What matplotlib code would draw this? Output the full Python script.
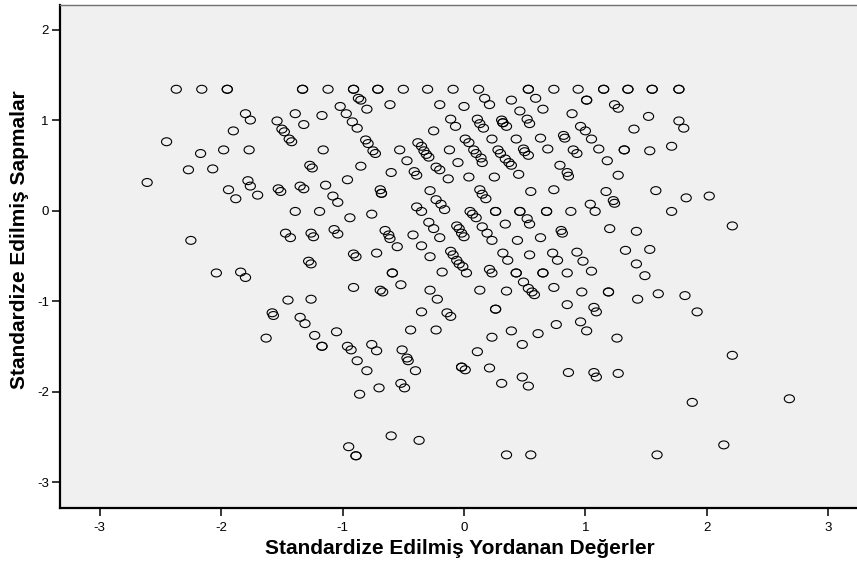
import matplotlib
matplotlib.use('Agg')
import matplotlib.pyplot as plt
from matplotlib.path import Path
from matplotlib.transforms import Affine2D
import numpy as np

plt.rcParams['font.family'] = ['Liberation Sans', 'DejaVu Sans']

# ---- data ----
top_y = 1.34
top_x = [-2.37, -2.16, -1.95, -1.95, -1.33, -1.33, -1.12, -0.91, -0.91, -0.71, -0.71,
         -0.50, -0.30, -0.09, 0.12, 0.53, 0.53, 0.74, 0.94, 1.15, 1.15, 1.35, 1.35,
         1.55, 1.55, 1.77, 1.77]

left_x = [-1.80, -1.76, -1.90, -2.45, -2.17, -1.98, -1.77, -2.27, -2.07, -2.61, -1.78,
          -1.76, -1.94, -1.88, -1.70, -2.25, -2.04, -1.84, -1.80, -1.63]
left_y = [1.07, 1.00, 0.88, 0.76, 0.63, 0.67, 0.67, 0.45, 0.46, 0.31, 0.33,
          0.27, 0.23, 0.13, 0.17, -0.33, -0.69, -0.68, -0.74, -1.41]

upmid_x = [-0.87, -0.85, -1.02, -0.97, -0.80, -0.61, -1.39, -1.54, -1.32, -1.17, -0.92,
           -0.88, -1.50, -1.48, -1.44, -1.42, -0.81, -0.79, -0.75, -0.73, -1.16, -0.53,
           -0.47, -0.25, -0.20, -0.11, -0.07, -0.38, -0.35, -0.33, -0.31, -0.29, -0.12,
           -0.05, 0.00, 0.01, -1.27, -1.25, -0.85, -0.60, -0.41, -0.39, -0.23, -0.20,
           -0.13, -0.96]
upmid_y = [1.24, 1.22, 1.15, 1.07, 1.12, 1.17, 1.07, 0.99, 0.95, 1.05, 0.98,
           0.91, 0.90, 0.87, 0.79, 0.76, 0.78, 0.74, 0.66, 0.63, 0.67, 0.67,
           0.55, 0.88, 1.17, 1.01, 0.93, 0.75, 0.71, 0.66, 0.62, 0.59, 0.67,
           0.53, 1.15, 0.79, 0.50, 0.47, 0.49, 0.42, 0.43, 0.39, 0.48, 0.45,
           0.35, 0.34]

lowmid_x = [-1.53, -1.51, -1.35, -1.32, -1.14, -1.08, -1.04, -0.69, -0.68, -0.68, -0.28,
            -0.23, -0.19, -0.16, -0.39, -0.35, -1.39, -1.19, -0.94, -0.76, -1.47, -1.43,
            -1.26, -1.24, -1.07, -1.04, -0.65, -0.62, -0.61, -0.55, -0.29, -0.25, -0.42,
            -0.20, -0.06, -0.04, -0.02, 0.00, -0.35, -0.28, -0.11, -0.09, -0.06, -0.04,
            -0.01, -0.72, -0.91, -0.89, -1.28, -1.26, -0.59, -0.59, -0.18, -0.52, -0.91,
            -0.69, -0.67, -0.28, -0.22, -1.45, -1.26, -1.58, -1.57, -1.35, -1.31, -0.35,
            -0.14, -0.11, -1.23, -1.05, -1.17, -1.17, -0.96, -0.93, -0.76, -0.72, -0.44,
            -0.23, -0.51]
lowmid_y = [0.24, 0.21, 0.27, 0.24, 0.28, 0.16, 0.09, 0.23, 0.19, 0.19, 0.22,
            0.12, 0.07, 0.01, 0.04, -0.01, -0.01, -0.01, -0.08, -0.04, -0.25, -0.30,
            -0.25, -0.29, -0.21, -0.26, -0.22, -0.27, -0.31, -0.40, -0.13, -0.20, -0.27,
            -0.30, -0.17, -0.20, -0.25, -0.29, -0.39, -0.51, -0.45, -0.49, -0.55, -0.59,
            -0.62, -0.47, -0.48, -0.51, -0.56, -0.59, -0.69, -0.69, -0.68, -0.82, -0.85,
            -0.88, -0.90, -0.88, -0.98, -0.99, -0.98, -1.13, -1.16, -1.18, -1.25, -1.12,
            -1.13, -1.17, -1.38, -1.34, -1.50, -1.50, -1.50, -1.54, -1.48, -1.55, -1.32,
            -1.32, -1.54]

bottom_x = [-0.47, -0.46, -0.88, -0.80, -0.40, -0.02, -0.02, 0.01, -0.70, -0.52, -0.49,
            -0.86, -0.60, -0.37, -0.95, -0.89, -0.89]
bottom_y = [-1.63, -1.66, -1.66, -1.77, -1.77, -1.73, -1.73, -1.76, -1.96, -1.91, -1.96,
            -2.03, -2.49, -2.54, -2.61, -2.71, -2.71]

upright_x = [0.17, 0.21, 0.39, 0.59, 0.46, 0.65, 1.01, 1.01, 0.89, 1.24, 1.27,
             1.52, 0.11, 0.13, 0.16, 0.31, 0.32, 0.35, 0.32, 0.52, 0.54, 0.96,
             1.00, 1.40, 0.04, 0.23, 0.43, 0.63, 0.69, 0.82, 0.83, 1.05, 1.11,
             0.90, 0.93, 1.32, 1.32, 1.53, 0.08, 0.10, 0.14, 0.15, 0.28, 0.30,
             0.34, 0.37, 0.49, 0.50, 0.53, 0.39, 1.18, 0.04, 0.25, 0.45, 0.79,
             0.85, 0.86, 1.27]
upright_y = [1.24, 1.17, 1.22, 1.24, 1.10, 1.12, 1.22, 1.22, 1.07, 1.17, 1.13,
             1.04, 1.01, 0.96, 0.91, 1.00, 0.97, 0.93, 0.97, 1.01, 0.96, 0.93,
             0.88, 0.90, 0.75, 0.79, 0.79, 0.80, 0.68, 0.83, 0.80, 0.79, 0.68,
             0.67, 0.63, 0.67, 0.67, 0.66, 0.67, 0.63, 0.58, 0.53, 0.67, 0.63,
             0.57, 0.53, 0.68, 0.65, 0.61, 0.50, 0.55, 0.37, 0.37, 0.40, 0.50,
             0.42, 0.38, 0.39]

lowright_x = [0.13, 0.15, 0.18, 0.55, 0.74, 1.17, 1.23, 1.24, 1.58, 1.04, 1.08,
              0.05, 0.07, 0.10, 0.26, 0.26, 0.46, 0.46, 0.52, 0.54, 0.68, 0.68,
              0.88, 0.15, 0.19, 0.23, 0.34, 0.44, 0.63, 0.80, 0.81, 1.20, 1.42,
              0.32, 0.36, 0.54, 0.73, 0.77, 0.93, 0.98, 1.33, 1.53, 1.42, 1.49,
              0.02, 0.21, 0.23, 0.43, 0.43, 0.65, 0.65, 0.85, 1.05, 0.49, 0.53,
              0.56, 0.58, 0.13, 0.35, 0.74, 0.97, 1.19, 1.19, 1.43, 1.60, 0.26,
              0.26, 0.85, 1.07, 1.09, 0.39, 0.23, 0.61, 0.76, 0.96, 1.01, 0.48,
              1.26, 0.11, 0.21, 0.31, 0.48, 0.53, 0.86, 1.07, 1.09, 1.27, 0.35,
              0.55, 1.59]
lowright_y = [0.23, 0.18, 0.13, 0.21, 0.23, 0.21, 0.11, 0.08, 0.22, 0.07, -0.01,
              -0.01, -0.04, -0.08, -0.01, -0.01, -0.01, -0.01, -0.09, -0.15, -0.01, -0.01,
              -0.01, -0.18, -0.25, -0.33, -0.15, -0.33, -0.30, -0.22, -0.25, -0.20, -0.23,
              -0.47, -0.55, -0.49, -0.47, -0.55, -0.46, -0.56, -0.44, -0.43, -0.59, -0.72,
              -0.69, -0.65, -0.69, -0.69, -0.69, -0.69, -0.69, -0.69, -0.67, -0.79, -0.86,
              -0.90, -0.93, -0.88, -0.89, -0.85, -0.90, -0.90, -0.90, -0.98, -0.92, -1.09,
              -1.09, -1.04, -1.07, -1.12, -1.33, -1.40, -1.36, -1.26, -1.23, -1.33, -1.48,
              -1.41, -1.56, -1.74, -1.91, -1.84, -1.94, -1.79, -1.79, -1.84, -1.80, -2.70,
              -2.70, -2.70]

far_x = [1.77, 1.81, 1.71, 1.83, 2.02, 1.71, 2.21, 1.82, 1.92, 2.21, 1.88, 2.68, 2.14]
far_y = [0.99, 0.91, 0.71, 0.14, 0.16, -0.01, -0.17, -0.94, -1.12, -1.60, -2.12, -2.08, -2.59]

x_ticks = [-3, -2, -1, 0, 1, 2, 3]
y_ticks = [-3, -2, -1, 0, 1, 2]
x_label = "Standardize Edilmiş Yordanan Değerler"
y_label = "Standardize Edilmiş Sapmalar"

xs = np.concatenate([top_x, left_x, upmid_x, lowmid_x, bottom_x, upright_x, lowright_x, far_x])
ys = np.concatenate([np.full(len(top_x), top_y), left_y, upmid_y, lowmid_y, bottom_y,
                     upright_y, lowright_y, far_y])

# ---- figure ----
fig = plt.figure(figsize=(8.57, 5.64), dpi=100)
ax = fig.add_axes([0.0700, 0.0998, 0.9300, 0.8918])
ax.set_facecolor('#F0F0F0')

ellipse = Path.unit_circle().transformed(Affine2D().scale(1.0, 0.78))
ax.scatter(xs, ys, marker=ellipse, s=7.3 ** 2, facecolors='none',
           edgecolors='black', linewidths=0.8, zorder=3)

ax.set_xlim(-3.328, 3.237)
ax.set_ylim(-3.284, 2.274)
ax.set_xticks(x_ticks)
ax.set_yticks(y_ticks)
ax.set_xticklabels([str(v) for v in x_ticks])
ax.set_yticklabels([str(v) for v in y_ticks])

ax.tick_params(axis='x', direction='out', length=6, width=1.1, labelsize=9.5, pad=4)
ax.tick_params(axis='y', direction='out', length=6, width=1.1, labelsize=9.5, pad=2)

for side in ['left', 'bottom']:
    ax.spines[side].set_color('black')
    ax.spines[side].set_linewidth(1.6)
ax.spines['top'].set_color('#707070')
ax.spines['top'].set_linewidth(1.0)
ax.spines['right'].set_visible(False)

fig.text(460 / 857, 1 - 549 / 564, x_label, ha='center', va='center',
         fontsize=15, fontweight='bold')
fig.text(20 / 857, 1 - 240 / 564, y_label, ha='center', va='center',
         fontsize=15, fontweight='bold', rotation=90)

fig.savefig('out.png', dpi=100)
